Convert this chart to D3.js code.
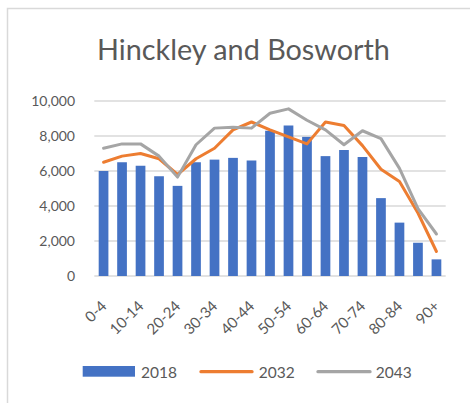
<!DOCTYPE html>
<html>
<head>
<meta charset="utf-8">
<script src="https://cdn.jsdelivr.net/npm/d3@7"></script>
<style>
  html, body { margin: 0; padding: 0; background: #fff; }
  svg { display: block; }
</style>
</head>
<body>
<svg id="chart" width="470" height="403"></svg>
<script>
const categories = ["0-4","5-9","10-14","15-19","20-24","25-29","30-34","35-39","40-44","45-49","50-54","55-59","60-64","65-69","70-74","75-79","80-84","85-89","90+"];
const values2018 = [6000,6500,6300,5700,5150,6500,6650,6750,6600,8300,8600,7950,6850,7200,6800,4450,3050,1900,950];
const values2032 = [6500,6850,7000,6700,5800,6700,7300,8350,8800,8350,7950,7550,8800,8600,7450,6100,5400,3600,1400];
const values2043 = [7300,7550,7550,6850,5650,7500,8450,8500,8450,9300,9550,8900,8350,7500,8300,7850,6150,3850,2400];
const yTicks = [0,2000,4000,6000,8000,10000];
const seriesNames = ["2018","2032","2043"];
const title = "Hinckley and Bosworth";

const colors = {b:"#4472C4", o:"#ED7D31", g:"#A5A5A5", grid:"#D9D9D9", text:"#595959"};
const font = "Lato, 'Open Sans', sans-serif";

const svg = d3.select("#chart");

// chart border (top & left visible)
svg.append("rect").attr("x",7.5).attr("y",8.5).attr("width",500).attr("height",450)
  .attr("fill","none").attr("stroke",colors.grid).attr("stroke-width",1.5);

const plot = {left:94.3, right:445.7, top:101, bottom:276};

const x = d3.scaleBand().domain(categories).range([plot.left, plot.right])
  .paddingInner(0.475).paddingOuter(0.2375);
const y = d3.scaleLinear().domain([0,10000]).range([plot.bottom, plot.top]);

// gridlines
svg.append("g").selectAll("line").data(yTicks).join("line")
  .attr("x1",plot.left).attr("x2",plot.right)
  .attr("y1",d=>y(d)).attr("y2",d=>y(d))
  .attr("stroke",colors.grid).attr("stroke-width",1.3);

// y labels
svg.append("g").selectAll("text").data(yTicks).join("text")
  .attr("x",75).attr("y",d=>y(d)).attr("dy","0.36em")
  .attr("text-anchor","end").attr("font-family",font).attr("font-size",14)
  .attr("fill",colors.text).text(d=>d3.format(",")(d));

// bars
svg.append("g").selectAll("rect").data(categories).join("rect")
  .attr("x",d=>x(d)).attr("width",x.bandwidth())
  .attr("y",(d,i)=>y(values2018[i])).attr("height",(d,i)=>y(0)-y(values2018[i]))
  .attr("fill",colors.b);

// lines
const line = d3.line().x((d,i)=>x(categories[i])+x.bandwidth()/2).y(d=>y(d));
[[values2032,colors.o],[values2043,colors.g]].forEach(([vals,c])=>{
  svg.append("path").attr("d",line(vals)).attr("fill","none")
    .attr("stroke",c).attr("stroke-width",3).attr("stroke-linejoin","round").attr("stroke-linecap","round");
});

// x labels (every other)
svg.append("g").selectAll("text").data(categories.filter((d,i)=>i%2===0)).join("text")
  .attr("transform",d=>`translate(${x(d)+x.bandwidth()/2+4},307) rotate(-45)`)
  .attr("text-anchor","end").attr("font-family",font).attr("font-size",15)
  .attr("fill",colors.text).text(d=>d);

// title
const t = svg.append("text").attr("x",243.5).attr("y",59.5).attr("text-anchor","middle")
  .attr("font-family",font).attr("font-size",30).attr("fill",colors.text).text(title);
const tw = t.node().getComputedTextLength();
t.attr("font-size", 30*293/tw);

// legend
const lg = svg.append("g");
lg.append("rect").attr("x",82.7).attr("y",366).attr("width",52.3).attr("height",10.7).attr("fill",colors.b);
lg.append("line").attr("x1",201).attr("x2",252).attr("y1",371.7).attr("y2",371.7)
  .attr("stroke",colors.o).attr("stroke-width",3.3).attr("stroke-linecap","round");
lg.append("line").attr("x1",318).attr("x2",370).attr("y1",371.7).attr("y2",371.7)
  .attr("stroke",colors.g).attr("stroke-width",3.3).attr("stroke-linecap","round");
[[141,seriesNames[0]],[258.7,seriesNames[1]],[375.7,seriesNames[2]]].forEach(([lx,s])=>{
  lg.append("text").attr("x",lx).attr("y",378.3).attr("font-family",font).attr("font-size",15.5)
    .attr("fill",colors.text).text(s);
});
</script>
</body>
</html>
